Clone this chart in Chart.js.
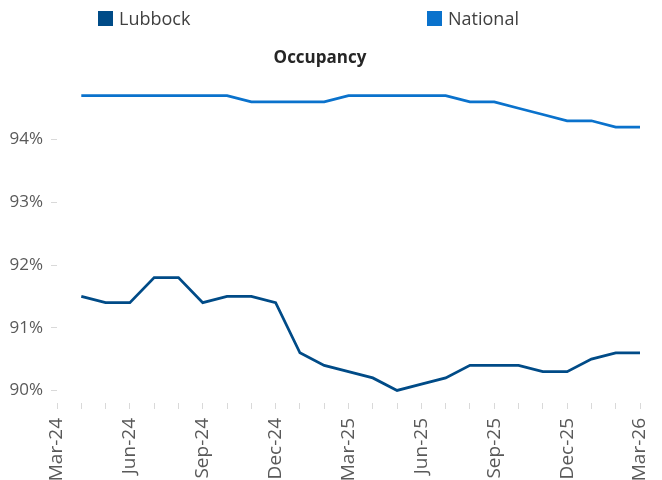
<!DOCTYPE html>
<html>
<head>
<meta charset="utf-8">
<script src="https://cdn.jsdelivr.net/npm/chart.js@4"></script>
<style>
  html, body { margin: 0; padding: 0; background: #fff; }
  #wrap { position: relative; width: 662px; height: 480px; }
  #legend { position: absolute; top: 0; left: 0; width: 662px; height: 34px; font-family: 'Open Sans', sans-serif; font-size: 18px; color: #404040; }
  .lg-item { position: absolute; top: 6px; display: flex; align-items: center; white-space: nowrap; }
  .lg-box { width: 15px; height: 15px; margin-right: 6px; }
</style>
</head>
<body>
<div id="wrap">
  <canvas id="chart" width="662" height="480"></canvas>
  <div id="legend"></div>
</div>
<script>
// ── DATA ───────────────────────────────────
const months = ['Mar-24','Apr-24','May-24','Jun-24','Jul-24','Aug-24','Sep-24','Oct-24','Nov-24','Dec-24','Jan-25','Feb-25',
  'Mar-25','Apr-25','May-25','Jun-25','Jul-25','Aug-25','Sep-25','Oct-25','Nov-25','Dec-25','Jan-26','Feb-26','Mar-26'];
// series start Apr-24 (axis starts one month earlier)
const lubbock  = [91.5,91.4,91.4,91.8,91.8,91.4,91.5,91.5,91.4,90.6,90.4,90.3,90.2,90.0,90.1,90.2,90.4,90.4,90.4,90.3,90.3,90.5,90.6,90.6];
const national = [94.7,94.7,94.7,94.7,94.7,94.7,94.7,94.6,94.6,94.6,94.6,94.7,94.7,94.7,94.7,94.7,94.6,94.6,94.5,94.4,94.3,94.3,94.2,94.2];
const yTicks = [90, 91, 92, 93, 94];
const legendX = [98, 427];

const FONT = "'Open Sans', sans-serif";
const GREY = '#595959';

const chart = new Chart(document.getElementById('chart'), {
  type: 'line',
  data: {
    labels: months,
    datasets: [
      { label: 'Lubbock', data: [null].concat(lubbock), borderColor: '#004B87', backgroundColor: '#004B87', borderWidth: 2.75, pointRadius: 0, tension: 0 },
      { label: 'National', data: [null].concat(national), borderColor: '#0A72CC', backgroundColor: '#0A72CC', borderWidth: 2.75, pointRadius: 0, tension: 0 }
    ]
  },
  options: {
    responsive: false, animation: false,
    layout: { padding: { left: 0, right: 22, top: 0, bottom: 0 } },
    plugins: {
      legend: { display: false },
      tooltip: { enabled: false },
      title: {
        display: true, text: 'Occupancy', color: '#262626',
        font: { family: FONT, size: 17, weight: 'bold' },
        padding: { top: 48, bottom: 21 }
      }
    },
    scales: {
      x: {
        offset: false,
        border: { display: false },
        grid: { drawOnChartArea: false, tickLength: 6, color: '#d9d9d9', offset: false },
        ticks: {
          autoSkip: false, minRotation: 90, maxRotation: 90, padding: 9,
          color: GREY, font: { family: FONT, size: 19 },
          callback: (v, i) => i % 3 === 0 ? months[i] : ''
        },
        afterFit: s => { s.height = 77; s.paddingLeft = 0; s.paddingRight = 0; }
      },
      y: {
        min: 89.8, max: 94.8,
        border: { display: false },
        grid: { drawOnChartArea: false, tickLength: 6, color: '#d9d9d9' },
        afterBuildTicks: s => { s.ticks = yTicks.map(v => ({ value: v })); },
        ticks: { padding: 8, color: GREY, font: { family: FONT, size: 17 }, callback: v => v + '%' },
        afterFit: s => { s.width = 57; }
      }
    }
  }
});

// legend from the chart's datasets
document.getElementById('legend').innerHTML = chart.data.datasets.map((d, i) =>
  `<div class="lg-item" style="left:${legendX[i]}px"><span class="lg-box" style="background:${d.borderColor}"></span>${d.label}</div>`
).join('');
</script>
</body>
</html>
